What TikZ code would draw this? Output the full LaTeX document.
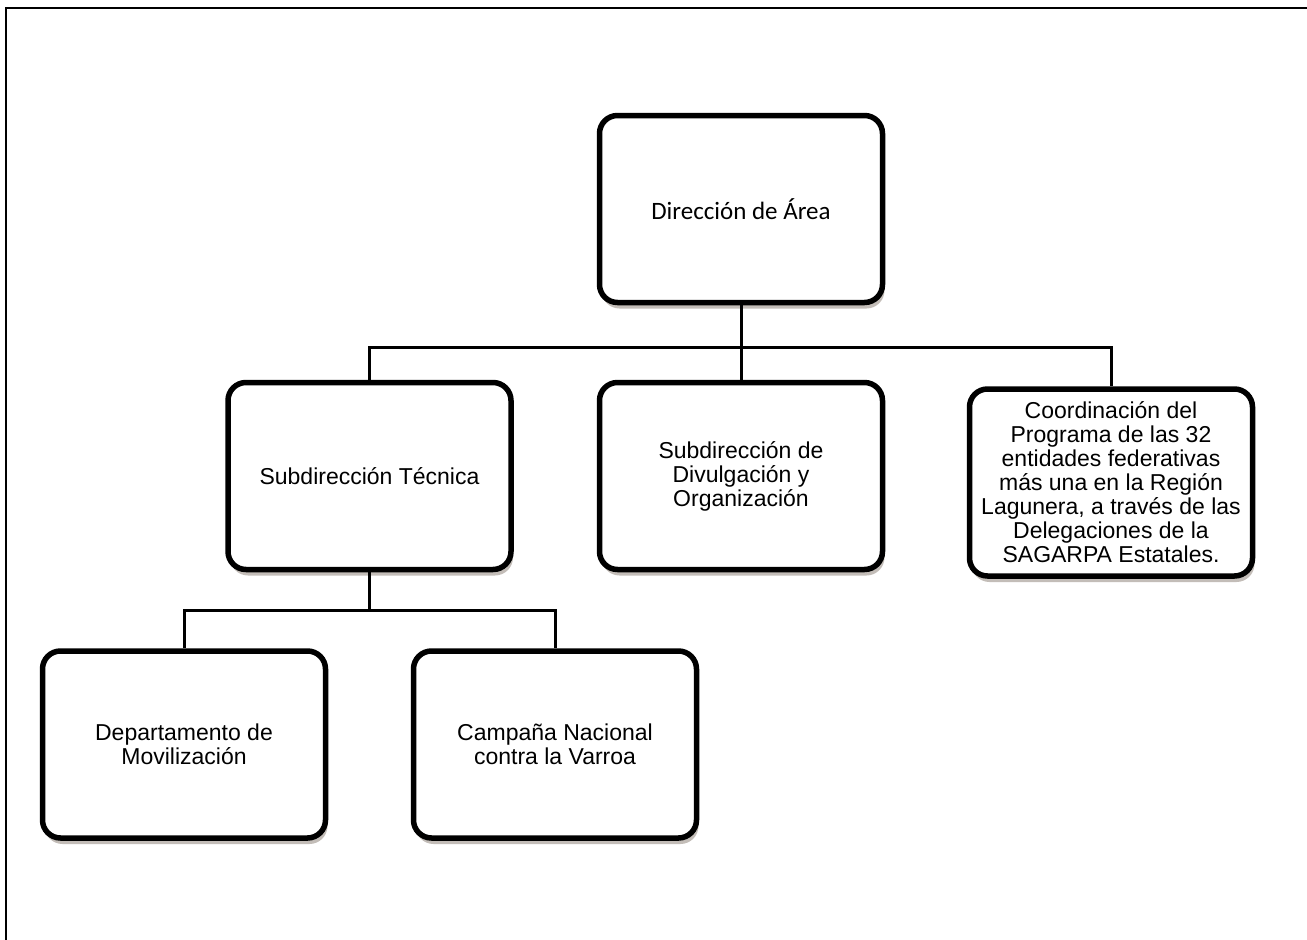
\documentclass[tikz,border=0pt]{standalone}
\usepackage{fontspec}
\setmainfont{Liberation Sans}
\newfontfamily\carlitofont{Carlito}
\usepackage{tikz}
\usetikzlibrary{shadows}
\usetikzlibrary{calc}

\tikzset{
	caja/.style={draw, line width=5.5pt, rounded corners=18pt, fill=white,
		minimum width=283pt, minimum height=187pt, align=center,
		font=\fontsize{23}{24}\selectfont,
		drop shadow={shadow xshift=2pt, shadow yshift=-6pt, opacity=0.3, fill=black!70!brown}},
	enlace/.style={line width=3pt}
}

\begin{document}
\begin{tikzpicture}[x=1pt,y=-1pt]
\useasboundingbox (0,0) rectangle (1307,940);
% marco
\draw[line width=2.5pt] (6,940) -- (6,8) -- (1307,8);

% cajas
\node[caja, font=\carlitofont\fontsize{25}{26}\selectfont] (dir) at (741,209) {Dirección de Área};
\node[caja] (tec) at (369.5,476) {Subdirección Técnica};
\node[caja] (div) at (741,476) {Subdirección de\\Divulgación y\\Organización};
\node[caja] (coord) at (1111,482.5) {Coordinación del\\Programa de las 32\\entidades federativas\\más una en la Región\\Lagunera, a través de las\\Delegaciones de la\\SAGARPA Estatales.};
\node[caja] (mov) at (184,744.5) {Departamento de\\Movilización};
\node[caja] (varroa) at (555,744.5) {Campaña Nacional\\contra la Varroa};

\coordinate (bar1) at (741,347);
\coordinate (bar2) at (369.5,610);

% lineas
\draw[enlace] (dir.south) -- (div.north);
\draw[enlace] (tec.north) |- (bar1) -| (coord.north);
\draw[enlace] (tec.south) -- (bar2);
\draw[enlace] (mov.north) |- (bar2) -| (varroa.north);
\end{tikzpicture}
\end{document}
